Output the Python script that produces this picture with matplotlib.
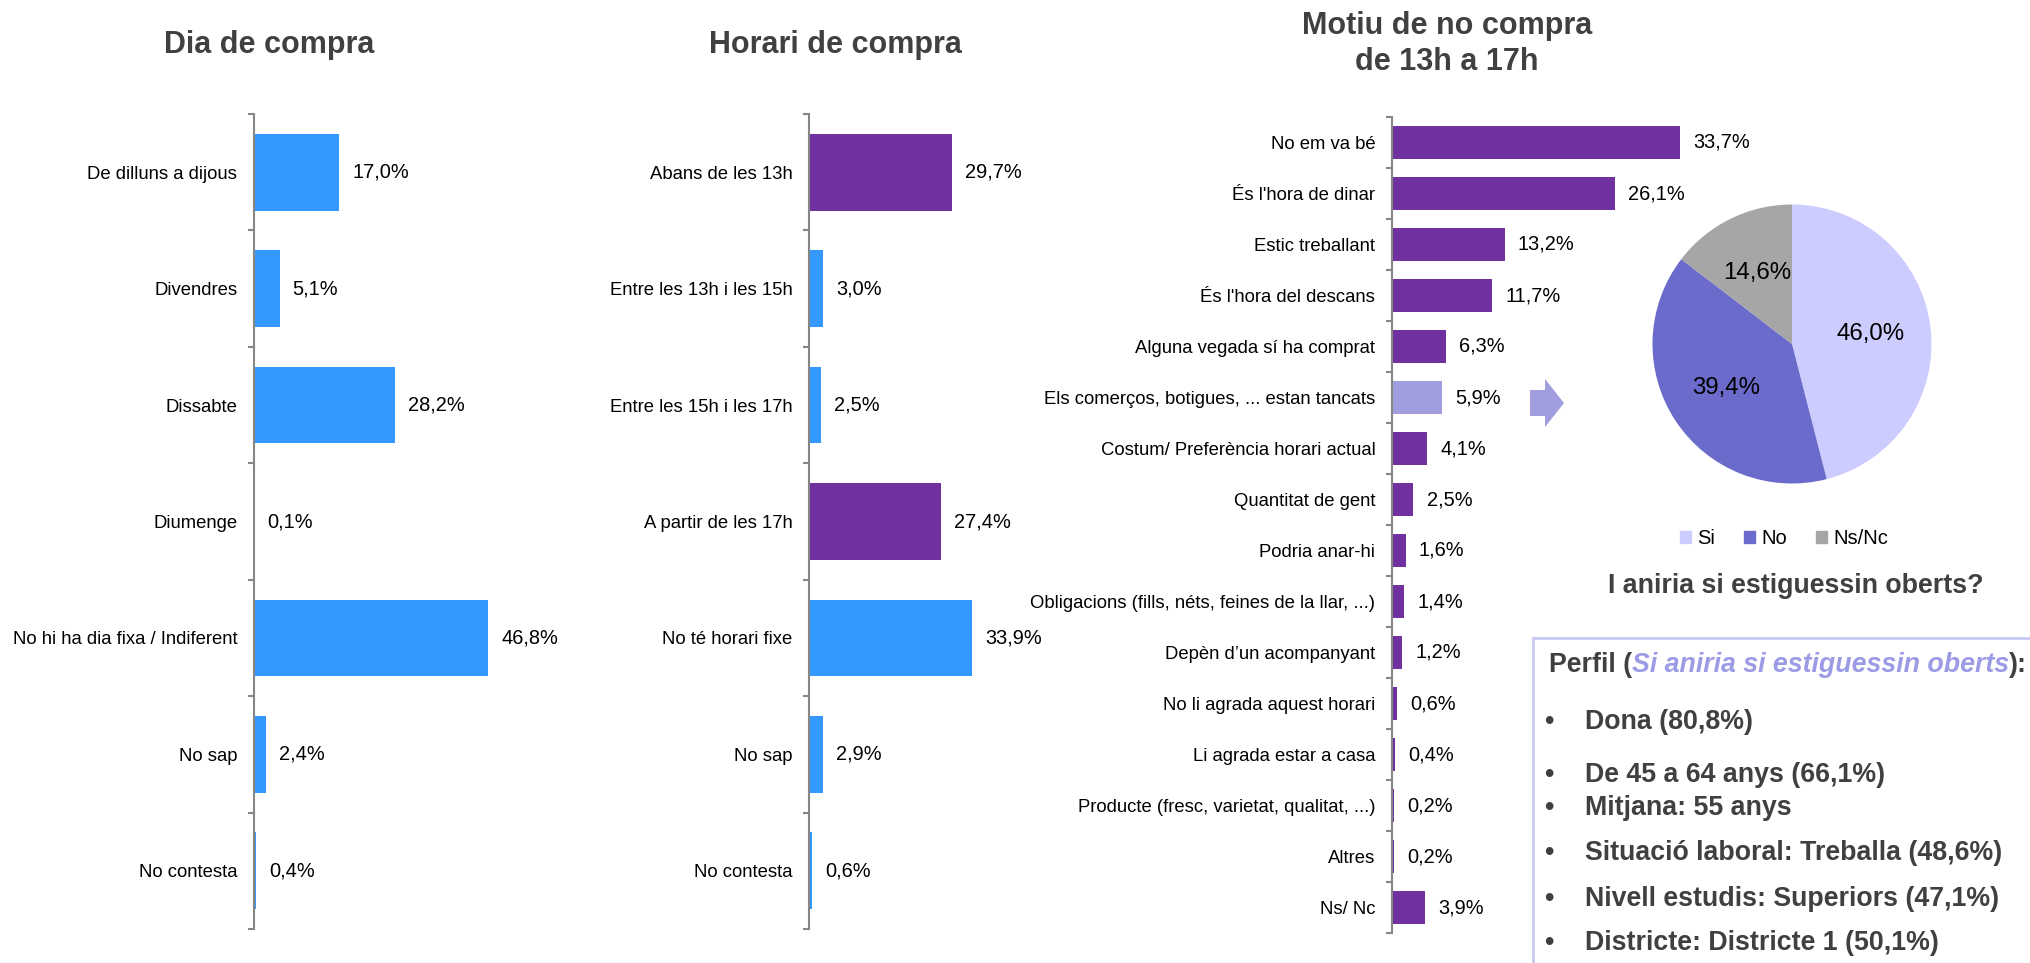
import numpy as np
import matplotlib
matplotlib.use('Agg')
import matplotlib.pyplot as plt
from matplotlib.patches import Rectangle, Polygon, Patch

plt.rcParams['font.family'] = ['Liberation Sans', 'DejaVu Sans']

# Data
dia_cats = ['De dilluns a dijous', 'Divendres', 'Dissabte', 'Diumenge',
            'No hi ha dia fixa / Indiferent', 'No sap', 'No contesta']
dia_vals = [17.0, 5.1, 28.2, 0.1, 46.8, 2.4, 0.4]

horari_cats = ['Abans de les 13h', 'Entre les 13h i les 15h', 'Entre les 15h i les 17h',
               'A partir de les 17h', 'No té horari fixe', 'No sap', 'No contesta']
horari_vals = [29.7, 3.0, 2.5, 27.4, 33.9, 2.9, 0.6]
horari_highlight = [True, False, False, True, False, False, False]

motiu_cats = ['No em va bé', "És l'hora de dinar", 'Estic treballant', "És l'hora del descans",
              'Alguna vegada sí ha comprat', 'Els comerços, botigues, ... estan tancats',
              'Costum/ Preferència horari actual', 'Quantitat de gent', 'Podria anar-hi',
              'Obligacions (fills, néts, feines de la llar, ...)', 'Depèn d’un acompanyant',
              'No li agrada aquest horari', 'Li agrada estar a casa',
              'Producte (fresc, varietat, qualitat, ...)', 'Altres', 'Ns/ Nc']
motiu_vals = [33.7, 26.1, 13.2, 11.7, 6.3, 5.9, 4.1, 2.5, 1.6, 1.4, 1.2, 0.6, 0.4, 0.2, 0.2, 3.9]
motiu_selected = 5

pie_labels = ['Si', 'No', 'Ns/Nc']
pie_vals = [46.0, 39.4, 14.6]

perfil_items = ['Dona (80,8%)', 'De 45 a 64 anys (66,1%)', 'Mitjana: 55 anys',
                'Situació laboral: Treballa (48,6%)', 'Nivell estudis: Superiors (47,1%)',
                'Districte: Districte 1 (50,1%)']

BLUE = '#3399FF'
PURPLE = '#7030A0'
LIGHT = '#A09EDE'
GRAY_TXT = '#404040'
AXIS = '#868686'

W, H = 2031, 963
fig = plt.figure(figsize=(W / 100, H / 100), dpi=100)


def px_axes(left, top, width, height):
    return fig.add_axes([left / W, 1 - (top + height) / H, width / W, height / H])


def pct(v):
    return f"{v:.1f}%".replace('.', ',')


def bar_panel(ax, cats, vals, colors, xmax):
    y = np.arange(len(cats))
    ax.barh(y, vals, height=0.66, color=colors)
    ax.set_ylim(len(cats) - 0.5, -0.5)
    ax.set_xlim(0, xmax)
    ax.set_yticks(y)
    ax.set_yticklabels(cats, fontsize=13.3)
    ax.tick_params(axis='y', which='major', length=0, pad=12)
    ax.set_yticks(np.arange(len(cats) + 1) - 0.5, minor=True)
    ax.tick_params(axis='y', which='minor', length=4.5, width=1.5, color=AXIS)
    ax.xaxis.set_visible(False)
    for s in ['top', 'right', 'bottom']:
        ax.spines[s].set_visible(False)
    ax.spines['left'].set_color(AXIS)
    ax.spines['left'].set_linewidth(1.5)
    ax.patch.set_visible(False)
    for yi, v in zip(y, vals):
        ax.annotate(pct(v), (v, yi), xytext=(9.5, 0), textcoords='offset points',
                    va='center', ha='left', fontsize=14.4)


# Dia de compra
ax1 = px_axes(254, 114, 300, 815)
bar_panel(ax1, dia_cats, dia_vals, BLUE, 60)

# Horari de compra
ax2 = px_axes(809, 114, 240, 815)
bar_panel(ax2, horari_cats, horari_vals,
          [PURPLE if h else BLUE for h in horari_highlight], 50)

# Motiu de no compra
ax3 = px_axes(1392, 117, 299, 816)
motiu_colors = [LIGHT if i == motiu_selected else PURPLE for i in range(len(motiu_cats))]
bar_panel(ax3, motiu_cats, motiu_vals, motiu_colors, 35)

# titles
title_kw = dict(ha='center', va='center', fontsize=22, fontweight='bold', color=GRAY_TXT)
fig.text(269 / W, 1 - 45 / H, 'Dia de compra', **title_kw)
fig.text(835 / W, 1 - 45 / H, 'Horari de compra', **title_kw)
fig.text(1447 / W, 1 - 44 / H, 'Motiu de no compra\nde 13h a 17h', linespacing=1.28, **title_kw)

# arrow towards the pie
arrow_pts = np.array([(1530, 390), (1545, 390), (1545, 379), (1564, 403),
                      (1545, 427), (1545, 416), (1530, 416)], dtype=float)
arrow_pts[:, 0] /= W
arrow_pts[:, 1] = 1 - arrow_pts[:, 1] / H
fig.patches.append(Polygon(arrow_pts, closed=True, facecolor=LIGHT, edgecolor='none',
                           transform=fig.transFigure))

# Pie
pie_colors = ['#CCCCFF', '#6B6BCB', '#A6A6A6']
axp = px_axes(1652.5, 204.5, 279, 279)
wedges, _, autotexts = axp.pie(pie_vals, colors=pie_colors, startangle=90, counterclock=False,
                               autopct=lambda p: pct(p), pctdistance=0.57,
                               wedgeprops=dict(linewidth=0),
                               textprops=dict(fontsize=17.3, color='black'))
axp.set_xlim(-1, 1)
axp.set_ylim(-1, 1)

fig.legend(handles=[Patch(color=c) for c in pie_colors], labels=pie_labels,
           loc='center', bbox_to_anchor=(1784 / W, 1 - 539 / H), ncol=3, frameon=False,
           fontsize=14.5, handlelength=0.55, handleheight=0.55, handletextpad=0.3,
           columnspacing=1.45)

fig.text(1796 / W, 1 - 586 / H, 'I aniria si estiguessin oberts?', ha='center', va='center',
         fontsize=19.3, fontweight='bold', color=GRAY_TXT)

# Profile box
fig.patches.append(Rectangle((1533 / W, -0.05), 0.5, 1 - 638 / H + 0.05, fill=False,
                             edgecolor='#C9C9F3', linewidth=2, transform=fig.transFigure))

renderer = fig.canvas.get_renderer()
x = 1549 / W
y = 1 - 665 / H
parts = [('Perfil (', GRAY_TXT, 'normal'),
         ('Si aniria si estiguessin oberts', '#9B9BE6', 'italic'),
         ('):', GRAY_TXT, 'normal')]
for txt, col, style in parts:
    t = fig.text(x, y, txt, ha='left', va='center', fontsize=19.3, fontweight='bold',
                 style=style, color=col)
    bb = t.get_window_extent(renderer)
    x += bb.width / W

bullet_y = [722, 775, 808, 853, 899, 943]
for item, by in zip(perfil_items, bullet_y):
    fig.text(1549 / W, 1 - by / H, '•', ha='center', va='center', fontsize=19.3,
             fontweight='bold', color=GRAY_TXT)
    fig.text(1585 / W, 1 - by / H, item, ha='left', va='center', fontsize=19.3,
             fontweight='bold', color=GRAY_TXT)

fig.savefig('out.png', dpi=100)
